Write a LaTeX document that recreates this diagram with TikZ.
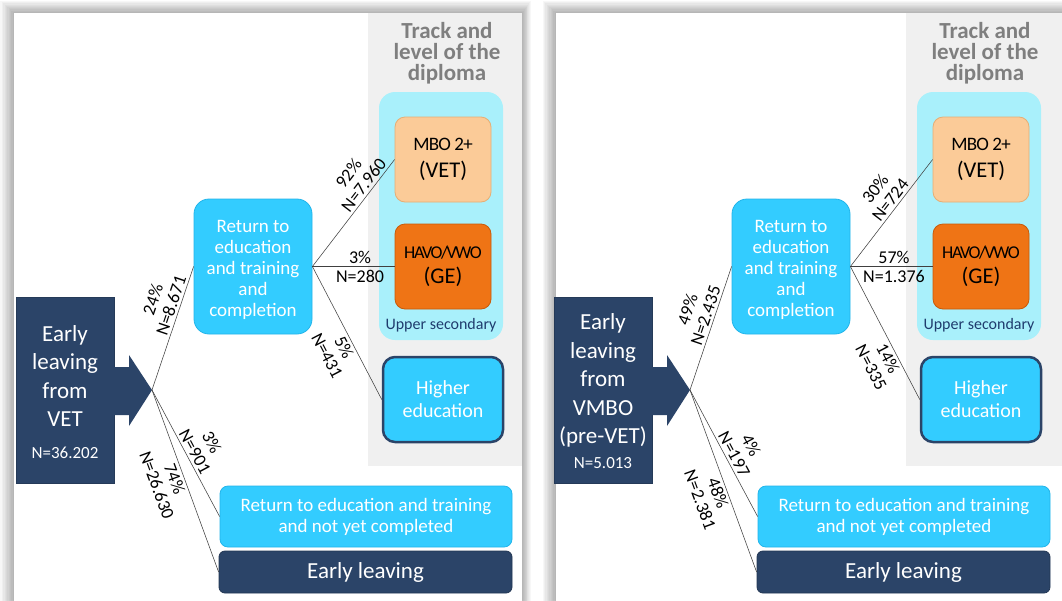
\documentclass[tikz,border=0pt]{standalone}
\usepackage{fontspec}
\setmainfont{Carlito}
\newfontfamily\condA[LetterSpace=-4]{Carlito}
\newfontfamily\condB[LetterSpace=-8]{Carlito}
\usetikzlibrary{calc}
\definecolor{navyc}{HTML}{2B4468}
\definecolor{cyanc}{HTML}{33CCFF}
\definecolor{cyanedge}{HTML}{22B5EA}
\definecolor{paleblue}{HTML}{A9F0FB}
\definecolor{peach}{HTML}{FBCB98}
\definecolor{peachedge}{HTML}{E6AE74}
\definecolor{orangec}{HTML}{EF7415}
\definecolor{orangeedge}{HTML}{C85A08}
\definecolor{trackgray}{HTML}{F0F0F0}
\definecolor{titlegray}{HTML}{7F7F7F}
\definecolor{usecnavy}{HTML}{1F3C6E}
\begin{document}
\begin{tikzpicture}[x=1pt,y=-1pt,
  txt/.style={inner sep=0pt, align=center},
  link/.style={draw=black!75, line width=0.55pt},
  lbl/.style={inner sep=2.6pt, align=center, font=\fontsize{18}{19}\selectfont, sloped},
  srcbox/.style={fill=navyc, draw=navyc!85!black, line width=0.6pt, minimum width=98pt, minimum height=186pt, inner sep=0pt},
  srctext/.style={txt, text=white, font=\fontsize{23}{28.5}\selectfont},
  retbox/.style={fill=cyanc, draw=cyanedge, line width=0.8pt, rounded corners=15pt, minimum width=118pt, minimum height=135pt, inner sep=0pt},
  rettext/.style={txt, text=white, font=\fontsize{19}{21}\selectfont},
  upperbox/.style={fill=paleblue, rounded corners=16pt, minimum width=124pt, minimum height=248pt, inner sep=0pt},
  mbobox/.style={fill=peach, draw=peachedge, line width=0.8pt, rounded corners=10pt, minimum width=96pt, minimum height=85pt, inner sep=0pt, align=center, text=black, font=\fontsize{22.5}{27}\selectfont},
  havobox/.style={mbobox, fill=orangec, draw=orangeedge, font=\fontsize{22.5}{25}\selectfont},
  highbox/.style={fill=cyanc, draw=navyc, line width=2.5pt, rounded corners=12pt, minimum width=120pt, minimum height=85pt, inner sep=0pt, text=white, align=center, font=\fontsize{20}{23}\selectfont},
  notyetbox/.style={fill=cyanc, draw=cyanedge, line width=0.8pt, rounded corners=8pt, minimum width=292pt, minimum height=61pt, inner sep=0pt, text=white, align=center, font=\fontsize{19}{21}\selectfont},
  leavebox/.style={fill=navyc, draw=navyc!80!black, line width=0.8pt, rounded corners=6pt, minimum width=293pt, minimum height=42pt, inner sep=0pt, text=white, align=center, font=\fontsize{23}{26}\selectfont},
  titletext/.style={txt, text=titlegray, font=\bfseries\fontsize{23}{21}\selectfont},
  uppertext/.style={txt, text=usecnavy, font=\fontsize{16}{18}\selectfont},
  shadowlayer/.style={fill=black, opacity=0.03}
]
\useasboundingbox (0,0) rectangle (1062,600);
\clip (0,0) rectangle (1062,600);
\fill[white] (0,0) rectangle (1062,600);

% ---------- panel backgrounds ----------
\foreach \i in {1,...,10}
  \fill[shadowlayer] ($(14,13)+(-1.35*\i,-1.2*\i)$) rectangle ($(522,640)+(0.9*\i,0)$);
\fill[white] (14,13) rectangle (522,640);
\fill[trackgray] (368,13) rectangle (522,466);

\foreach \i in {1,...,10}
  \fill[shadowlayer] ($(556,13)+(-1.35*\i,-1.2*\i)$) rectangle (1100,640);
\fill[white] (556,13) rectangle (1100,640);
\fill[trackgray] (906,13) rectangle (1100,466);

% ---------- left panel ----------
\node[titletext] (L-title) at (447,53) {Track and\\level of the\\diploma};
\node[upperbox] (L-upper) at (441,216) {};
\node[uppertext] (L-uppertxt) at (441,325) {Upper secondary};
\node[mbobox] (L-mbo) at (443,159.5) {{\condA\fontsize{19}{22}\selectfont MBO 2+}\\(VET)};
\node[havobox] (L-havo) at (443,266.5) {{\condB\fontsize{18}{20}\selectfont HAVO/VWO}\\(GE)};
\node[highbox] (L-high) at (443,399.5) {Higher\\education};
\node[retbox] (L-ret) at (253,266.5) {};
\node[rettext] (L-rettxt) at (253,269.5) {Return to\\education\\and training\\and\\completion};
\node[notyetbox] (L-notyet) at (366,516.5) {Return to education and training\\and not yet completed};
\node[leavebox] (L-leave) at (365.5,572) {Early leaving};
\node[srcbox] (L-src) at (65,390) {};
\fill[navyc] (113,367) -- (129,367) -- (129,355) -- (152,390) -- (129,426) -- (129,415) -- (113,415) -- cycle;
\coordinate (L-tip) at (152,390);
\node[srctext] (L-srctxt) at (65,392) {Early\\leaving\\from\\VET\\[3pt]{\fontsize{17}{20}\selectfont N=36.202}};

\path[link] (L-tip) -- (L-ret.west) node[lbl, above, pos=0.66] {24\%\\N=8.671};
\path[link] (L-ret.east) -- (L-mbo.west) node[lbl, above, pos=0.71] {92\%\\N=7.960};
\path[link] (L-ret.east) -- (L-havo.west) node[lbl, pos=0.58] {3\%\\N=280};
\path[link] (L-ret.east) -- (L-high.west) node[lbl, below, pos=0.575] {5\%\\N=431};
\path[link] (L-tip) -- (L-notyet.west) node[lbl, above, pos=0.52] {3\%\\N=901};
\path[link] (L-tip) -- (L-leave.west) node[lbl, below, pos=0.47] {74\%\\N=26.630};

% ---------- right panel ----------
\begin{scope}[xshift=538pt]
\node[titletext] (R-title) at (447,53) {Track and\\level of the\\diploma};
\node[upperbox] (R-upper) at (441,216) {};
\node[uppertext] (R-uppertxt) at (441,325) {Upper secondary};
\node[mbobox] (R-mbo) at (443,159.5) {{\condA\fontsize{19}{22}\selectfont MBO 2+}\\(VET)};
\node[havobox] (R-havo) at (443,266.5) {{\condB\fontsize{18}{20}\selectfont HAVO/VWO}\\(GE)};
\node[highbox] (R-high) at (443,399.5) {Higher\\education};
\node[retbox] (R-ret) at (253,266.5) {};
\node[rettext] (R-rettxt) at (253,269.5) {Return to\\education\\and training\\and\\completion};
\node[notyetbox] (R-notyet) at (366,516.5) {Return to education and training\\and not yet completed};
\node[leavebox] (R-leave) at (365.5,572) {Early leaving};
\node[srcbox] (R-src) at (65,390) {};
\fill[navyc] (113,367) -- (129,367) -- (129,355) -- (152,390) -- (129,426) -- (129,415) -- (113,415) -- cycle;
\coordinate (R-tip) at (152,390);
\node[srctext] (R-srctxt) at (65,391) {Early\\leaving\\from\\VMBO\\(pre-VET)\\[-4pt]{\fontsize{17}{20}\selectfont N=5.013}};

\path[link] (R-tip) -- (R-ret.west) node[lbl, above, pos=0.58] {49\%\\N=2.435};
\path[link] (R-ret.east) -- (R-mbo.west) node[lbl, above, pos=0.57] {30\%\\N=724};
\path[link] (R-ret.east) -- (R-havo.west) node[lbl, pos=0.53] {57\%\\N=1.376};
\path[link] (R-ret.east) -- (R-high.west) node[lbl, below, pos=0.66] {14\%\\N=335};
\path[link] (R-tip) -- (R-notyet.west) node[lbl, above, pos=0.54] {4\%\\N=197};
\path[link] (R-tip) -- (R-leave.west) node[lbl, below, pos=0.55] {48\%\\N=2.381};
\end{scope}
\end{tikzpicture}
\end{document}
